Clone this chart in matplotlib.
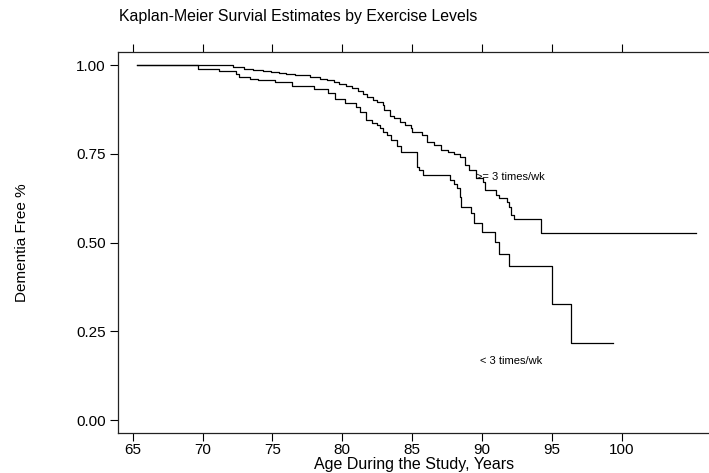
import numpy as np
import matplotlib
matplotlib.use('Agg')
import matplotlib.pyplot as plt

plt.rcParams['font.family'] = ['Liberation Sans', 'DejaVu Sans']

# Kaplan-Meier step values (age, survival after drop)
hi_age = [65.3, 72.2, 73.0, 73.6, 74.3, 74.9, 75.5, 76.0, 76.6, 77.1, 77.7,
          78.4, 78.9, 79.4, 79.8, 80.3, 80.7, 81.1, 81.5, 81.8, 82.2, 82.5,
          82.9, 83.0, 83.4, 83.7, 84.1, 84.5, 84.9, 85.0, 85.7, 86.1, 86.6,
          87.1, 87.6, 88.0, 88.4, 88.8, 89.1, 89.6, 90.1, 90.2, 91.0, 91.2,
          91.8, 91.9, 92.1, 92.3, 94.2, 105.3]
hi_surv = [1.0, 0.995, 0.990, 0.987, 0.983, 0.980, 0.977, 0.975, 0.973, 0.971,
           0.967, 0.962, 0.957, 0.952, 0.947, 0.940, 0.934, 0.928, 0.918, 0.910,
           0.902, 0.895, 0.887, 0.873, 0.857, 0.850, 0.840, 0.831, 0.822, 0.812,
           0.803, 0.784, 0.775, 0.761, 0.756, 0.749, 0.742, 0.718, 0.704, 0.681,
           0.671, 0.648, 0.634, 0.624, 0.615, 0.601, 0.577, 0.565, 0.526, 0.526]

lo_age = [65.3, 69.7, 71.2, 72.4, 72.6, 73.4, 74.0, 75.2, 76.4, 78.0, 79.0,
          79.5, 80.2, 81.0, 81.3, 81.7, 82.1, 82.5, 82.7, 82.9, 83.2, 83.5,
          83.9, 84.2, 85.35, 85.5, 85.8, 87.7, 88.0, 88.2, 88.4, 88.5, 89.2,
          89.4, 90.0, 90.9, 91.2, 91.9, 95.0, 96.4, 99.4]
lo_surv = [1.0, 0.990, 0.984, 0.976, 0.967, 0.962, 0.957, 0.951, 0.941, 0.932,
           0.920, 0.903, 0.892, 0.883, 0.869, 0.845, 0.838, 0.831, 0.822, 0.812,
           0.803, 0.789, 0.772, 0.756, 0.713, 0.704, 0.690, 0.676, 0.665, 0.653,
           0.629, 0.601, 0.582, 0.556, 0.530, 0.502, 0.468, 0.434, 0.326, 0.218,
           0.218]

x_ticks = [65, 70, 75, 80, 85, 90, 95, 100]
y_ticks = [0.0, 0.25, 0.5, 0.75, 1.0]

fig = plt.figure(figsize=(7.09, 4.73), dpi=100)
ax = fig.add_axes([0.1669, 0.0839, 0.8331, 0.8068])

ax.step(hi_age, hi_surv, where='post', color='black', lw=0.9)
ax.step(lo_age, lo_surv, where='post', color='black', lw=0.9)

ax.text(89.56, 0.684, '>= 3 times/wk', fontsize=8, va='center', ha='left')
ax.text(89.85, 0.167, '< 3 times/wk', fontsize=8, va='center', ha='left')

ax.set_xlim(63.97, 106.25)
ax.set_ylim(-0.0375, 1.0375)
ax.set_xticks(x_ticks)
ax.set_yticks(y_ticks)
ax.set_yticklabels(['%.2f' % v for v in y_ticks])

ax.spines['right'].set_visible(False)
for s in ['left', 'bottom', 'top']:
    ax.spines[s].set_linewidth(0.9)
    ax.spines[s].set_color('#222222')
ax.tick_params(axis='x', top=True, labeltop=False, direction='out',
               length=6, width=0.8, labelsize=11, pad=1)
ax.tick_params(axis='y', direction='out', length=6, width=0.8,
               labelsize=11, pad=3)

ax.set_xlabel('Age During the Study, Years', fontsize=11.5)
ax.xaxis.set_label_coords(0.5, -0.062)
ax.set_ylabel('Dementia Free %', fontsize=11)
ax.yaxis.set_label_coords(-0.151, 0.5)

fig.text(119 / 709, 1 - 17 / 473, 'Kaplan-Meier Survial Estimates by Exercise Levels',
         fontsize=11.4, va='center', ha='left')

fig.savefig('out.png', dpi=100)
